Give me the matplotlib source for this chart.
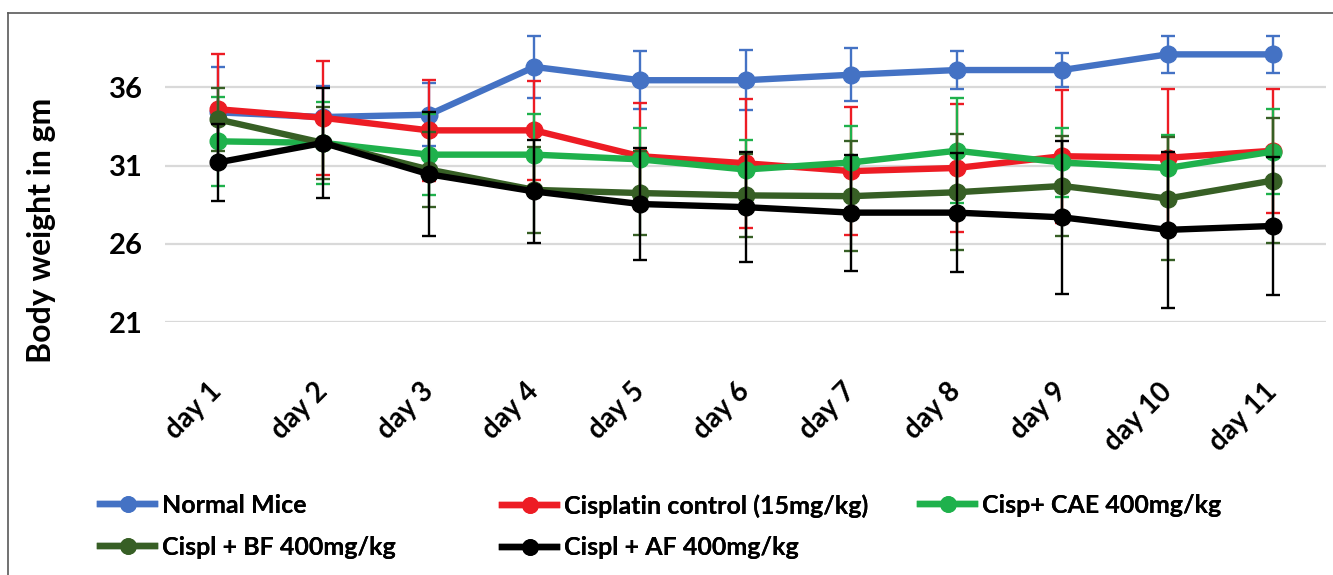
import matplotlib
matplotlib.use('Agg')
import matplotlib.pyplot as plt
from matplotlib.lines import Line2D

plt.rcParams['font.family'] = ['Lato', 'DejaVu Sans']
plt.rcParams['font.weight'] = 'bold'

# Data (mean body weight and error per day)
days = ['day 1', 'day 2', 'day 3', 'day 4', 'day 5', 'day 6',
        'day 7', 'day 8', 'day 9', 'day 10', 'day 11']

normal = [34.4, 34.1, 34.25, 37.3, 36.45, 36.45, 36.8, 37.1, 37.1, 38.1, 38.1]
normal_err = [2.9, 1.95, 2.0, 2.0, 1.85, 1.9, 1.7, 1.2, 1.1, 1.2, 1.2]

cis = [34.6, 34.05, 33.25, 33.25, 31.6, 31.15, 30.65, 30.85, 31.6, 31.5, 31.95]
cis_err = [3.5, 3.65, 3.2, 3.15, 3.4, 4.1, 4.1, 4.1, 4.25, 4.4, 3.95]

cae = [32.55, 32.45, 31.7, 31.7, 31.4, 30.75, 31.2, 31.95, 31.2, 30.85, 31.9]
cae_err = [2.85, 2.6, 2.6, 2.6, 2.0, 1.9, 2.3, 3.35, 2.2, 2.1, 2.7]

bf = [33.95, 32.45, 30.75, 29.45, 29.25, 29.1, 29.05, 29.3, 29.7, 28.9, 30.05]
bf_err = [2.0, 2.3, 2.4, 2.75, 2.7, 2.65, 3.5, 3.7, 3.2, 3.9, 4.0]

af = [31.2, 32.45, 30.45, 29.35, 28.55, 28.35, 28.0, 28.0, 27.7, 26.9, 27.15]
af_err = [2.45, 3.5, 3.95, 3.3, 3.6, 3.5, 3.7, 3.8, 4.9, 5.0, 4.4]

labels = ['Normal Mice', 'Cisplatin control (15mg/kg)', 'Cisp+ CAE 400mg/kg',
          'Cispl + BF 400mg/kg', 'Cispl + AF 400mg/kg']
colors = ['#4472C4', '#ED1C24', '#1FB14C', '#375F25', '#000000']
series = [(normal, normal_err), (cis, cis_err), (cae, cae_err),
          (bf, bf_err), (af, af_err)]

W, H = 1333, 575
fig = plt.figure(figsize=(W / 100, H / 100), dpi=100)
ax = fig.add_axes([165 / W, 1 - 322.3 / H, 1161 / W, (322.3 - 19.9) / H])

x = list(range(len(days)))
for i, ((vals, err), col) in enumerate(zip(series, colors)):
    ax.errorbar(x, vals, yerr=err, color=col, ecolor=col, elinewidth=1.7,
                capsize=5, capthick=1.7, linewidth=4.6, marker='o',
                markersize=12, zorder=3 + i)

ax.set_xlim(-0.5, len(days) - 0.5)
ax.set_ylim(21, 40.3)
ax.set_yticks([21, 26, 31, 36])
ax.yaxis.grid(True, color='#D9D9D9', linewidth=1.6)
ax.set_axisbelow(True)
for s in ax.spines.values():
    s.set_visible(False)

ax.set_xticks(x)
ax.set_xticklabels(days, rotation=45, ha='right', va='center',
                   rotation_mode='anchor')
ax.tick_params(axis='x', length=0, pad=47, labelsize=20)
ax.tick_params(axis='y', length=0, pad=16, labelsize=21)

fig.text(42 / W, 1 - 230 / H, 'Body weight in gm', rotation=90,
         ha='center', va='center', fontsize=23, fontweight='bold')

# legend laid out in three columns like the original
handles = [Line2D([], [], color=c, linewidth=4.6, marker='o', markersize=11)
           for c in colors]
columns = [([0, 3], 100), ([1, 4], 502), ([2], 920)]
for idx, left in columns:
    leg = fig.legend([handles[k] for k in idx], [labels[k] for k in idx],
                     loc='upper left', bbox_to_anchor=(left / W, 1 - 494 / H),
                     frameon=False, fontsize=18, handlelength=2.2,
                     handletextpad=0.3, labelspacing=0.75, borderpad=0,
                     borderaxespad=0)
    fig.add_artist(leg)

# outer border (top and left visible)
fig.add_artist(Line2D([8 / W, 1], [1 - 13 / H, 1 - 13 / H], color='#595959',
                      linewidth=1.2, transform=fig.transFigure))
fig.add_artist(Line2D([8 / W, 8 / W], [0, 1 - 13 / H], color='#595959',
                      linewidth=1.2, transform=fig.transFigure))

fig.savefig('out.png', dpi=100)
